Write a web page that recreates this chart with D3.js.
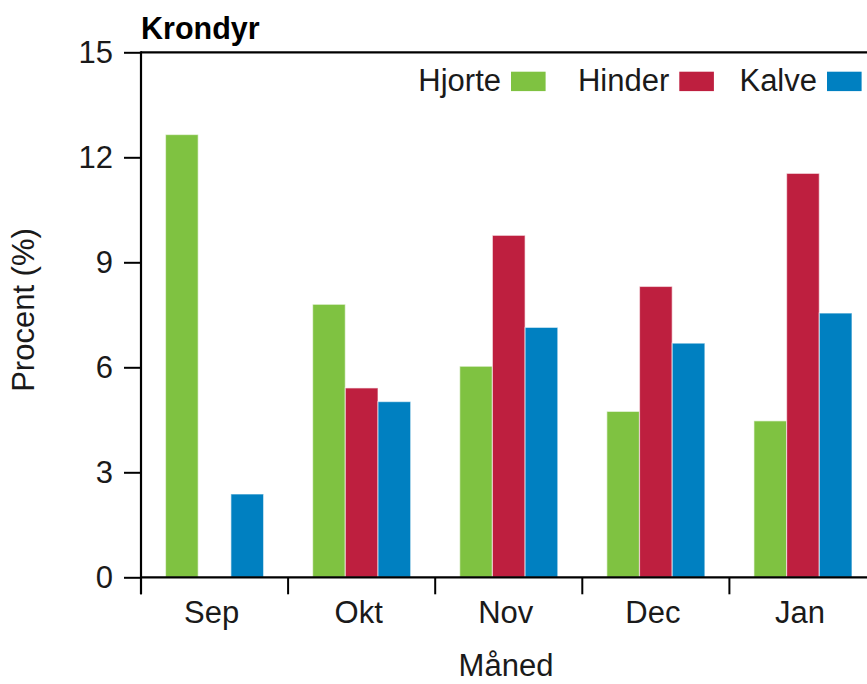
<!DOCTYPE html>
<html>
<head>
<meta charset="utf-8">
<script src="https://cdn.jsdelivr.net/npm/d3@7"></script>
<style>
  html, body { margin: 0; padding: 0; background: #fff; }
  svg { display: block; font-family: "Liberation Sans", Arial, sans-serif; }
</style>
</head>
<body>
<svg id="chart" width="867" height="684"></svg>
<script>
(function () {
// ---- data ----
const months = ["Sep", "Okt", "Nov", "Dec", "Jan"];
const seriesNames = ["Hjorte", "Hinder", "Kalve"];
const hjorte = [12.65, 7.80, 6.03, 4.74, 4.47];
const hinder = [0, 5.41, 9.77, 8.31, 11.54];
const kalve  = [2.38, 5.02, 7.14, 6.69, 7.55];
const yTicks = [0, 3, 6, 9, 12, 15];
const colors = ["#7fc241", "#be1f3f", "#0080c1"];
const title = "Krondyr";
const xTitle = "Måned";
const yTitle = "Procent (%)";

const seriesValues = [hjorte, hinder, kalve];
const table = months.map((m, i) => ({
  month: m,
  values: seriesNames.map((s, j) => ({ key: s, value: seriesValues[j][i], color: colors[j] }))
}));

// ---- layout ----
const svg = d3.select("#chart");
const mLeft = 141, mTop = 52.3, mBottom = 577.3;
const step = 147.1;
const mRight = mLeft + step * months.length;
const textColor = "#1a1a1a";
const fs = 31;

const x = d3.scaleBand().domain(months).range([mLeft, mRight]).paddingInner(0).paddingOuter(0);
const xInner = d3.scaleBand().domain(seriesNames).range([0, x.bandwidth()]).paddingInner(0).paddingOuter(0.75);
const y = d3.scaleLinear().domain([0, 15]).range([mBottom, mTop]);

// bars
const groups = svg.append("g").selectAll("g").data(table).join("g")
  .attr("transform", d => `translate(${x(d.month)},0)`);
groups.selectAll("rect").data(d => d.values.filter(v => v.value > 0)).join("rect")
  .attr("x", d => xInner(d.key))
  .attr("y", d => y(d.value))
  .attr("width", xInner.bandwidth())
  .attr("height", d => y(0) - y(d.value))
  .attr("fill", d => d.color)
  .attr("stroke", "#ffffff")
  .attr("stroke-opacity", 0.55)
  .attr("stroke-width", 1.2);

// y axis
const yAxis = d3.axisLeft(y).tickValues(yTicks).tickSize(17).tickPadding(11).tickFormat(d3.format("d"));
const gy = svg.append("g").attr("transform", `translate(${mLeft},0)`).call(yAxis);
gy.select(".domain").remove();
gy.selectAll(".tick line").attr("stroke", "#000").attr("stroke-width", 2);
gy.selectAll(".tick text").attr("font-size", fs).attr("fill", textColor)
  .attr("font-family", "Liberation Sans, Arial, sans-serif").attr("dy", "0.32em");

// vertical axis line
svg.append("line").attr("x1", mLeft).attr("x2", mLeft).attr("y1", mTop - 1).attr("y2", mBottom + 17)
  .attr("stroke", "#000").attr("stroke-width", 2.2);

// top and bottom horizontal lines
svg.append("line").attr("x1", mLeft).attr("x2", mRight + 20).attr("y1", y(15)).attr("y2", y(15))
  .attr("stroke", "#000").attr("stroke-width", 2.2);
svg.append("line").attr("x1", mLeft).attr("x2", mRight + 20).attr("y1", y(0)).attr("y2", y(0))
  .attr("stroke", "#000").attr("stroke-width", 2.2);

// x axis labels and ticks at band boundaries
const xAxis = d3.axisBottom(x).tickSize(0).tickPadding(0);
const gx = svg.append("g").attr("transform", `translate(0,${mBottom})`).call(xAxis);
gx.select(".domain").remove();
gx.selectAll(".tick line").remove();
gx.selectAll(".tick text").attr("font-size", fs).attr("fill", textColor)
  .attr("font-family", "Liberation Sans, Arial, sans-serif")
  .attr("dy", null).attr("y", 46).attr("x", -3);
svg.append("g").selectAll("line").data(months).join("line")
  .attr("x1", d => x(d)).attr("x2", d => x(d))
  .attr("y1", mBottom).attr("y2", mBottom + 17)
  .attr("stroke", "#000").attr("stroke-width", 2);

// titles
svg.append("text").attr("x", mLeft).attr("y", 39).text(title)
  .attr("font-size", 30.5).attr("font-weight", "bold").attr("fill", "#000");
svg.append("text").attr("x", 506).attr("y", 676).attr("text-anchor", "middle").text(xTitle)
  .attr("font-size", fs).attr("fill", textColor);
svg.append("text").attr("transform", "translate(34,310) rotate(-90)").attr("text-anchor", "middle")
  .text(yTitle).attr("font-size", fs).attr("fill", textColor);

// legend
const legendSwatchX = [511, 679.3, 827];
const legend = svg.append("g").selectAll("g").data(seriesNames).join("g");
legend.append("rect")
  .attr("x", (d, i) => legendSwatchX[i]).attr("y", 71.7)
  .attr("width", 34.6).attr("height", 19.4)
  .attr("fill", (d, i) => colors[i]);
legend.append("text")
  .attr("x", (d, i) => legendSwatchX[i] - 10).attr("y", 90.5)
  .attr("text-anchor", "end").attr("font-size", fs).attr("fill", textColor)
  .text(d => d);
})();
</script>
</body>
</html>
